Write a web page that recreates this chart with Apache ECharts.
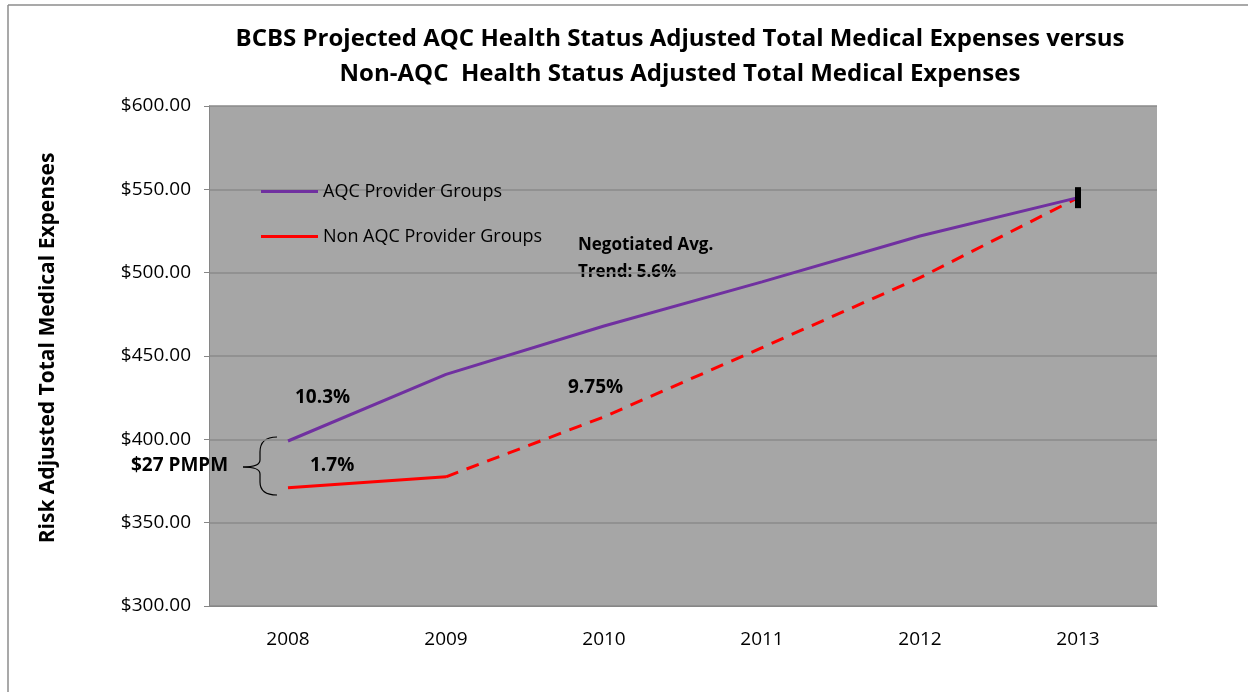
<!DOCTYPE html>
<html lang="en">
<head>
<meta charset="utf-8">
<title>BCBS AQC vs Non-AQC</title>
<style>
	html, body { margin: 0; padding: 0; background: #fff; }
	#chart { width: 1248px; height: 692px; }
</style>
</head>
<body>
<div id="chart"></div>
<script src="https://cdn.jsdelivr.net/npm/echarts@6/dist/echarts.min.js"></script>
<script>
// years on the x axis
var years = ['2008', '2009', '2010', '2011', '2012', '2013'];
// AQC provider groups, risk adjusted total medical expenses
var aqc = [399, 439, 468, 494.5, 522, 545];
// Non AQC groups: actual (solid) and projected (dashed)
var nonAqcActual = [371, 377.5, null, null, null, null];
var nonAqcProjected = [null, 377.5, 413.5, 455, 497, 545];
var yTicks = [300, 350, 400, 450, 500, 550, 600];

var font = 'Open Sans';
var chart = echarts.init(document.getElementById('chart'));

// bold text note, x = left edge, y = vertical centre
function note(x, y, txt, size) {
	return {
		type: 'text', x: x, y: y,
		style: {
			text: txt, font: 'bold ' + size + 'px "Open Sans"', fill: '#000',
			verticalAlign: 'middle'
		}
	};
}

var option = {
	backgroundColor: '#fff',
	animation: false,
	title: {
		text: 'BCBS Projected AQC Health Status Adjusted Total Medical Expenses versus\nNon-AQC  Health Status Adjusted Total Medical Expenses',
		left: 675,
		top: 17,
		textAlign: 'center',
		textStyle: {
			fontFamily: font,
			fontSize: 24,
			fontWeight: 'bold',
			color: '#000',
			lineHeight: 35
		}
	},
	legend: {
		data: ['AQC Provider Groups', 'Non AQC Provider Groups'],
		orient: 'vertical',
		left: 256,
		top: 175,
		icon: 'rect',
		itemWidth: 57,
		itemHeight: 3,
		itemGap: 22,
		textStyle: { fontFamily: font, fontSize: 18, color: '#000', lineHeight: 23 }
	},
	grid: {
		left: 209, right: 91, top: 106, bottom: 86,
		show: true,
		backgroundColor: '#a6a6a6',
		borderWidth: 0
	},
	xAxis: {
		type: 'category',
		data: years,
		boundaryGap: true,
		axisLine: { lineStyle: { color: '#868686' } },
		axisTick: { length: 8, lineStyle: { color: '#868686' } },
		axisLabel: { margin: 24, fontFamily: font, fontSize: 19, color: '#000' }
	},
	yAxis: {
		type: 'value',
		min: yTicks[0],
		max: yTicks[yTicks.length - 1],
		interval: 50,
		name: 'Risk Adjusted Total Medical Expenses',
		nameLocation: 'middle',
		nameGap: 150,
		nameTextStyle: { fontFamily: font, fontSize: 21, fontWeight: 'bold', color: '#000', padding: [0, 0, 0, 16] },
		axisLine: { show: true, lineStyle: { color: '#868686' } },
		axisTick: { show: true, length: 5, lineStyle: { color: '#868686' } },
		splitLine: { lineStyle: { color: '#8a8a8a', width: 1.5 } },
		axisLabel: {
			margin: 18,
			fontFamily: font, fontSize: 19, color: '#000',
			formatter: function (v) { return '$' + v.toFixed(2); }
		}
	},
	series: [
		{
			name: 'AQC Provider Groups',
			type: 'line',
			data: aqc,
			symbol: 'none',
			lineStyle: { color: '#7030a0', width: 3 },
			itemStyle: { color: '#7030a0' },
			z: 3,
			markPoint: {
				symbol: 'rect',
				symbolSize: [6, 21],
				itemStyle: { color: '#000' },
				label: { show: false },
				data: [{ coord: ['2013', 545] }]
			}
		},
		{
			name: 'Non AQC Provider Groups',
			type: 'line',
			data: nonAqcActual,
			symbol: 'none',
			lineStyle: { color: '#ff0000', width: 3 },
			itemStyle: { color: '#ff0000' },
			z: 2
		},
		{
			name: 'Non AQC projected',
			type: 'line',
			data: nonAqcProjected,
			symbol: 'none',
			lineStyle: { color: '#ff0000', width: 3, type: [13, 9] },
			itemStyle: { color: '#ff0000' },
			z: 2
		}
	],
	graphic: [
		// outer frame (top and left edges visible)
		{ type: 'line', shape: { x1: 8, y1: 5, x2: 1248, y2: 5 }, style: { stroke: '#8c8c8c', lineWidth: 1.5 } },
		{ type: 'line', shape: { x1: 8, y1: 5, x2: 8, y2: 692 }, style: { stroke: '#8c8c8c', lineWidth: 1.5 } },
		// annotations
		note(295, 398, '10.3%', 19),
		note(310, 466, '1.7%', 19),
		note(568, 388, '9.75%', 19),
		note(578, 245, 'Negotiated Avg.', 17),
		note(578, 272, 'Trend: 5.6%', 17),
		note(131, 466, '$27 PMPM', 19),
		// curly brace joining the two 2008 values
		{ type: 'bezierCurve', shape: { x1: 277, y1: 437, cpx1: 260, cpy1: 437, x2: 260, y2: 452 }, style: { stroke: '#000', fill: null, lineWidth: 1.2 } },
		{ type: 'line', shape: { x1: 260, y1: 452, x2: 260, y2: 460 }, style: { stroke: '#000', lineWidth: 1.2 } },
		{ type: 'bezierCurve', shape: { x1: 260, y1: 460, cpx1: 260, cpy1: 467, x2: 243, y2: 467 }, style: { stroke: '#000', fill: null, lineWidth: 1.2 } },
		{ type: 'bezierCurve', shape: { x1: 243, y1: 467, cpx1: 260, cpy1: 467, x2: 260, y2: 474 }, style: { stroke: '#000', fill: null, lineWidth: 1.2 } },
		{ type: 'line', shape: { x1: 260, y1: 474, x2: 260, y2: 482 }, style: { stroke: '#000', lineWidth: 1.2 } },
		{ type: 'bezierCurve', shape: { x1: 260, y1: 482, cpx1: 260, cpy1: 495, x2: 277, y2: 495 }, style: { stroke: '#000', fill: null, lineWidth: 1.2 } }
	]
};

chart.setOption(option);
</script>
</body>
</html>
